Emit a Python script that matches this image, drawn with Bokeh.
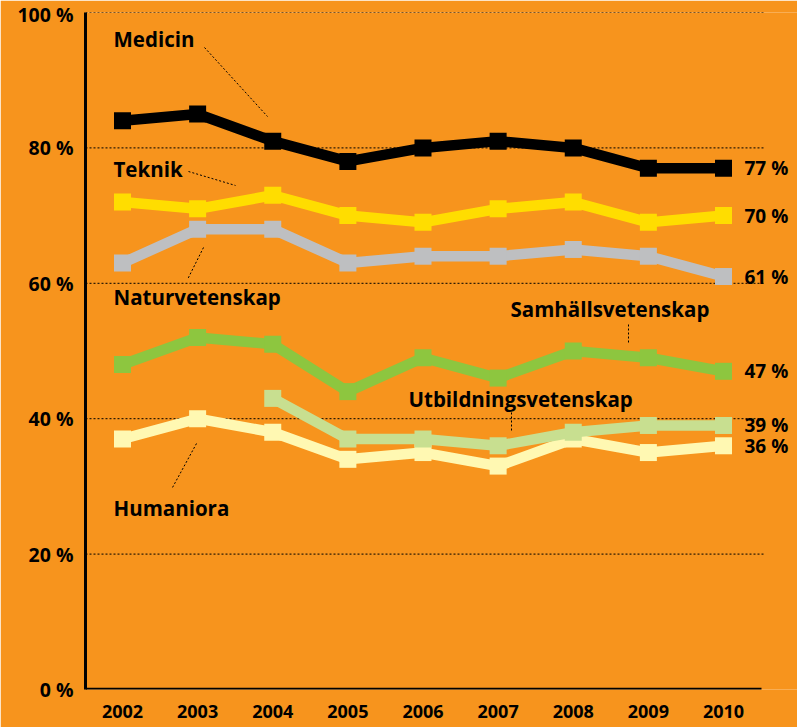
import numpy as np
from bokeh.plotting import figure
from bokeh.models import (ColumnDataSource, Range1d, FixedTicker, Label, LabelSet)
from bokeh.core.properties import value
from bokeh.embed import file_html
from bokeh.resources import INLINE

years = [2002, 2003, 2004, 2005, 2006, 2007, 2008, 2009, 2010]
medicin = [84, 85, 81, 78, 80, 81, 80, 77, 77]
teknik = [72, 71, 73, 70, 69, 71, 72, 69, 70]
naturvetenskap = [63, 68, 68, 63, 64, 64, 65, 64, 61]
samhallsvetenskap = [48, 52, 51, 44, 49, 46, 50, 49, 47]
utbildningsvetenskap = [None, None, 43, 37, 37, 36, 38, 39, 39]
humaniora = [37, 40, 38, 34, 35, 33, 37, 35, 36]

y_ticks = [0, 20, 40, 60, 80, 100]
y_tick_labels = ["0 %", "20 %", "40 %", "60 %", "80 %", "100 %"]

FONT = "Open Sans"
BG = "#F7941D"

W, H = 797, 727
ML, MR, MT, MB = 85, 0, 12, 38
frame_w = W - ML - MR
frame_h = H - MT - MB
px_per_year = 75.125
x0 = 2002 - (122 - ML) / px_per_year
x1 = x0 + frame_w / px_per_year

p = figure(width=W, height=H, output_backend="svg", toolbar_location=None,
           x_range=Range1d(x0, x1), y_range=Range1d(0, 100),
           min_border_left=ML, min_border_right=MR, min_border_top=MT, min_border_bottom=MB)
p.background_fill_color = BG
p.border_fill_color = BG
p.outline_line_color = None

# pixel helpers for annotation placement
def gx(page_x):
    return 2002 + (page_x - 122) / px_per_year

def gy(page_y):
    return (H - MB - page_y) / (frame_h / 100.0)

# axes
p.xaxis.ticker = FixedTicker(ticks=years)
p.xaxis.major_label_overrides = {y: str(y) for y in years}
p.yaxis.ticker = FixedTicker(ticks=y_ticks)
p.yaxis.major_label_overrides = {t: l for t, l in zip(y_ticks, y_tick_labels)}
for ax in (p.xaxis, p.yaxis):
    ax.axis_line_color = "black"
    ax.axis_line_width = 3
    ax.major_tick_line_color = None
    ax.minor_tick_line_color = None
    ax.major_label_text_font = FONT
    ax.major_label_text_font_style = "bold"
    ax.major_label_text_color = "black"
p.xaxis.axis_line_color = None
p.xaxis.major_label_text_font_size = "18px"
p.yaxis.major_label_text_font_size = "19.5px"
p.xaxis.major_label_standoff = 9
p.yaxis.major_label_standoff = 6

p.xgrid.grid_line_color = None
p.ygrid.grid_line_color = None

# dashed gridlines and bottom axis line (limited extent)
grid_end = gx(765)
p.segment(x0=[x0] * (len(y_ticks) - 1), y0=y_ticks[1:],
          x1=[grid_end] * (len(y_ticks) - 1), y1=y_ticks[1:],
          line_color="black", line_width=1, line_dash="2 2")
p.segment(x0=[x0], y0=[y_ticks[0]], x1=[gx(761)], y1=[y_ticks[0]],
          line_color="black", line_width=3.5)

series = [
    ("Humaniora", humaniora, "#FFF8B2"),
    ("Utbildningsvetenskap", utbildningsvetenskap, "#C8DF90"),
    ("Samhällsvetenskap", samhallsvetenskap, "#8DC63F"),
    ("Naturvetenskap", naturvetenskap, "#BEBFC1"),
    ("Teknik", teknik, "#FFDD00"),
    ("Medicin", medicin, "#000000"),
]

for name, vals, col in series:
    v = np.array([np.nan if a is None else a for a in vals], dtype=float)
    src = ColumnDataSource(dict(x=years, y=v))
    p.line("x", "y", source=src, line_color=col, line_width=10.5)
    p.scatter("x", "y", source=src, marker="square", size=17,
              fill_color=col, line_color=None)

# end labels
end_vals = [medicin[-1], teknik[-1], naturvetenskap[-1], samhallsvetenskap[-1],
            utbildningsvetenskap[-1], humaniora[-1]]
end_src = ColumnDataSource(dict(x=[years[-1]] * len(end_vals), y=end_vals,
                                t=[f"{v} %" for v in end_vals]))
p.add_layout(LabelSet(x="x", y="y", text="t", source=end_src, x_offset=21, y_offset=0,
                      text_font=value(FONT), text_font_style="bold",
                      text_font_size="19px", text_color="black",
                      text_baseline="middle"))

# series name labels (pixel coords of left/baseline)
name_pos = {
    "Medicin": (113, 38),
    "Teknik": (113, 168),
    "Naturvetenskap": (113, 296),
    "Samhällsvetenskap": (510, 308),
    "Utbildningsvetenskap": (408, 398),
    "Humaniora": (113, 507),
}
for nm, (lx, ly) in name_pos.items():
    p.add_layout(Label(x=gx(lx), y=gy(ly), text=nm, text_font=FONT,
                       text_font_style="bold", text_font_size="20.5px",
                       text_color="black", text_baseline="alphabetic"))

# leader lines (pixel coords)
leaders = [
    ((204, 47), (267, 116)),
    ((188, 171), (235, 185)),
    ((203, 247), (187, 279)),
    ((628, 324), (628, 342)),
    ((511, 412), (511, 430)),
    ((196, 443), (172, 487)),
]
p.segment(x0=[gx(a[0]) for a, b in leaders], y0=[gy(a[1]) for a, b in leaders],
          x1=[gx(b[0]) for a, b in leaders], y1=[gy(b[1]) for a, b in leaders],
          line_color="black", line_width=1, line_dash="2 2")

open("out.html", "w").write(file_html(p, INLINE))
